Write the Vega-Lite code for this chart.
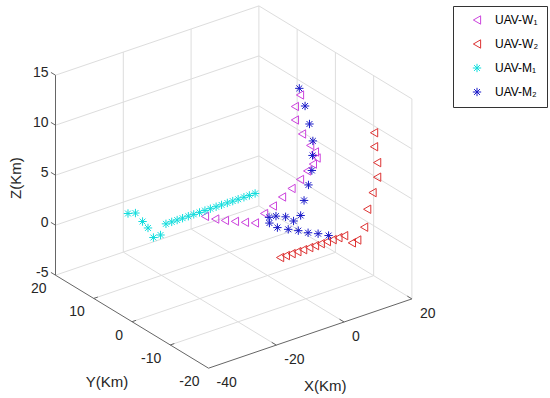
{
  "$schema": "https://vega.github.io/schema/vega-lite/v6.json",
  "width": 550,
  "height": 398,
  "padding": 0,
  "autosize": {"type": "none"},
  "background": "white",
  "config": {"view": {"stroke": null}},
  "datasets": {
    "grid": [
      {"X1": -20, "Y1": 20, "Z1": -5, "X2": -20, "Y2": 20, "Z2": 15},
      {"X1": 0, "Y1": 20, "Z1": -5, "X2": 0, "Y2": 20, "Z2": 15},
      {"X1": 20, "Y1": 20, "Z1": -5, "X2": 20, "Y2": 20, "Z2": 15},
      {"X1": -40, "Y1": 20, "Z1": -5, "X2": 20, "Y2": 20, "Z2": -5},
      {"X1": -40, "Y1": 20, "Z1": 0, "X2": 20, "Y2": 20, "Z2": 0},
      {"X1": -40, "Y1": 20, "Z1": 5, "X2": 20, "Y2": 20, "Z2": 5},
      {"X1": -40, "Y1": 20, "Z1": 10, "X2": 20, "Y2": 20, "Z2": 10},
      {"X1": -40, "Y1": 20, "Z1": 15, "X2": 20, "Y2": 20, "Z2": 15},
      {"X1": 20, "Y1": 10, "Z1": -5, "X2": 20, "Y2": 10, "Z2": 15},
      {"X1": 20, "Y1": 0, "Z1": -5, "X2": 20, "Y2": 0, "Z2": 15},
      {"X1": 20, "Y1": -10, "Z1": -5, "X2": 20, "Y2": -10, "Z2": 15},
      {"X1": 20, "Y1": -20, "Z1": -5, "X2": 20, "Y2": -20, "Z2": 15},
      {"X1": 20, "Y1": 20, "Z1": -5, "X2": 20, "Y2": -20, "Z2": -5},
      {"X1": 20, "Y1": 20, "Z1": 0, "X2": 20, "Y2": -20, "Z2": 0},
      {"X1": 20, "Y1": 20, "Z1": 5, "X2": 20, "Y2": -20, "Z2": 5},
      {"X1": 20, "Y1": 20, "Z1": 10, "X2": 20, "Y2": -20, "Z2": 10},
      {"X1": 20, "Y1": 20, "Z1": 15, "X2": 20, "Y2": -20, "Z2": 15},
      {"X1": -20, "Y1": 20, "Z1": -5, "X2": -20, "Y2": -20, "Z2": -5},
      {"X1": 0, "Y1": 20, "Z1": -5, "X2": 0, "Y2": -20, "Z2": -5},
      {"X1": -40, "Y1": 10, "Z1": -5, "X2": 20, "Y2": 10, "Z2": -5},
      {"X1": -40, "Y1": 0, "Z1": -5, "X2": 20, "Y2": 0, "Z2": -5},
      {"X1": -40, "Y1": -10, "Z1": -5, "X2": 20, "Y2": -10, "Z2": -5}
    ],
    "axes": [
      {"X1": -40, "Y1": 20, "Z1": -5, "X2": -40, "Y2": 20, "Z2": 15},
      {"X1": -40, "Y1": 20, "Z1": -5, "X2": -40, "Y2": -20, "Z2": -5},
      {"X1": -40, "Y1": -20, "Z1": -5, "X2": 20, "Y2": -20, "Z2": -5},
      {"X1": -40, "Y1": 20, "Z1": -5, "X2": -40, "Y2": 21.2, "Z2": -5},
      {"X1": -40, "Y1": 20, "Z1": 0, "X2": -40, "Y2": 21.2, "Z2": 0},
      {"X1": -40, "Y1": 20, "Z1": 5, "X2": -40, "Y2": 21.2, "Z2": 5},
      {"X1": -40, "Y1": 20, "Z1": 10, "X2": -40, "Y2": 21.2, "Z2": 10},
      {"X1": -40, "Y1": 20, "Z1": 15, "X2": -40, "Y2": 21.2, "Z2": 15},
      {"X1": -40, "Y1": 10, "Z1": -5, "X2": -38.8, "Y2": 10, "Z2": -5},
      {"X1": -40, "Y1": 0, "Z1": -5, "X2": -38.8, "Y2": 0, "Z2": -5},
      {"X1": -40, "Y1": -10, "Z1": -5, "X2": -38.8, "Y2": -10, "Z2": -5},
      {"X1": -20, "Y1": -20, "Z1": -5, "X2": -20, "Y2": -18.8, "Z2": -5},
      {"X1": 0, "Y1": -20, "Z1": -5, "X2": 0, "Y2": -18.8, "Z2": -5},
      {"X1": 20, "Y1": -20, "Z1": -5, "X2": 20, "Y2": -18.8, "Z2": -5}
    ],
    "ticks": [
      {"ax": "z", "X": -40, "Y": 20, "Z": -5, "t": "-5"},
      {"ax": "z", "X": -40, "Y": 20, "Z": 0, "t": "0"},
      {"ax": "z", "X": -40, "Y": 20, "Z": 5, "t": "5"},
      {"ax": "z", "X": -40, "Y": 20, "Z": 10, "t": "10"},
      {"ax": "z", "X": -40, "Y": 20, "Z": 15, "t": "15"},
      {"ax": "y", "X": -40, "Y": 20, "Z": -5, "t": "20"},
      {"ax": "y", "X": -40, "Y": 10, "Z": -5, "t": "10"},
      {"ax": "y", "X": -40, "Y": 0, "Z": -5, "t": "0"},
      {"ax": "y", "X": -40, "Y": -10, "Z": -5, "t": "-10"},
      {"ax": "y", "X": -40, "Y": -20, "Z": -5, "t": "-20"},
      {"ax": "x", "X": -40, "Y": -20, "Z": -5, "t": "-40"},
      {"ax": "x", "X": -20, "Y": -20, "Z": -5, "t": "-20"},
      {"ax": "x", "X": 0, "Y": -20, "Z": -5, "t": "0"},
      {"ax": "x", "X": 20, "Y": -20, "Z": -5, "t": "20"},
      {"ax": "tx", "X": -10, "Y": -20, "Z": -5, "t": "X(Km)"},
      {"ax": "ty", "X": -40, "Y": 0, "Z": -5, "t": "Y(Km)"},
      {"ax": "tz", "X": -40, "Y": 20, "Z": 5, "t": "Z(Km)"}
    ],
    "pts": [
      {"s": "UAV-W₁", "X": -9.0, "Y": 8.4, "Z": 0},
      {"s": "UAV-W₁", "X": -7.9, "Y": 6.7, "Z": 0},
      {"s": "UAV-W₁", "X": -6.5, "Y": 5.4, "Z": 0},
      {"s": "UAV-W₁", "X": -4.9, "Y": 4.2, "Z": 0},
      {"s": "UAV-W₁", "X": -3.3, "Y": 3.0, "Z": 0},
      {"s": "UAV-W₁", "X": -1.6, "Y": 1.9, "Z": 0},
      {"s": "UAV-W₁", "X": 1.1, "Y": 1.9, "Z": 0.63},
      {"s": "UAV-W₁", "X": 3.7, "Y": 1.9, "Z": 1.08},
      {"s": "UAV-W₁", "X": 6.4, "Y": 1.9, "Z": 1.67},
      {"s": "UAV-W₁", "X": 9.2, "Y": 1.9, "Z": 2.2},
      {"s": "UAV-W₁", "X": 11.7, "Y": 1.9, "Z": 2.81},
      {"s": "UAV-W₁", "X": 13.8, "Y": 1.9, "Z": 3.42},
      {"s": "UAV-W₁", "X": 15.5, "Y": 1.9, "Z": 3.91},
      {"s": "UAV-W₁", "X": 16.6, "Y": 1.9, "Z": 4.39},
      {"s": "UAV-W₁", "X": 16.1, "Y": 1.9, "Z": 5.05},
      {"s": "UAV-W₁", "X": 14.7, "Y": 1.9, "Z": 5.87},
      {"s": "UAV-W₁", "X": 12.3, "Y": 1.9, "Z": 7.29},
      {"s": "UAV-W₁", "X": 10.2, "Y": 1.9, "Z": 8.93},
      {"s": "UAV-W₁", "X": 10.2, "Y": 1.9, "Z": 10.28},
      {"s": "UAV-W₁", "X": 11.7, "Y": 1.9, "Z": 11.26},
      {"s": "UAV-W₂", "X": -7.6, "Y": -10, "Z": 0},
      {"s": "UAV-W₂", "X": -5.9, "Y": -10, "Z": 0},
      {"s": "UAV-W₂", "X": -4.2, "Y": -10, "Z": 0},
      {"s": "UAV-W₂", "X": -2.5, "Y": -10, "Z": 0},
      {"s": "UAV-W₂", "X": -0.8, "Y": -10, "Z": 0},
      {"s": "UAV-W₂", "X": 1.0, "Y": -10, "Z": 0},
      {"s": "UAV-W₂", "X": 2.7, "Y": -10, "Z": 0},
      {"s": "UAV-W₂", "X": 4.4, "Y": -10, "Z": 0},
      {"s": "UAV-W₂", "X": 6.2, "Y": -10, "Z": 0},
      {"s": "UAV-W₂", "X": 7.9, "Y": -10, "Z": 0},
      {"s": "UAV-W₂", "X": 9.6, "Y": -10, "Z": 0},
      {"s": "UAV-W₂", "X": 11.3, "Y": -10, "Z": 0},
      {"s": "UAV-W₂", "X": 12, "Y": -11.4, "Z": -0.47},
      {"s": "UAV-W₂", "X": 12, "Y": -12.8, "Z": 0.14},
      {"s": "UAV-W₂", "X": 12, "Y": -14.6, "Z": 1.84},
      {"s": "UAV-W₂", "X": 12, "Y": -15.4, "Z": 3.82},
      {"s": "UAV-W₂", "X": 12, "Y": -16.8, "Z": 5.81},
      {"s": "UAV-W₂", "X": 12, "Y": -18.0, "Z": 7.63},
      {"s": "UAV-W₂", "X": 12, "Y": -18.0, "Z": 9.09},
      {"s": "UAV-W₂", "X": 12, "Y": -17.2, "Z": 10.49},
      {"s": "UAV-W₂", "X": 12, "Y": -17.2, "Z": 11.89},
      {"s": "UAV-M₁", "X": -29.9, "Y": 10, "Z": 2.33},
      {"s": "UAV-M₁", "X": -27.7, "Y": 10, "Z": 2.12},
      {"s": "UAV-M₁", "X": -25.6, "Y": 10, "Z": 1.03},
      {"s": "UAV-M₁", "X": -24.0, "Y": 10, "Z": 0.2},
      {"s": "UAV-M₁", "X": -22.4, "Y": 10, "Z": -0.94},
      {"s": "UAV-M₁", "X": -20.3, "Y": 10, "Z": -0.93},
      {"s": "UAV-M₁", "X": -18.7, "Y": 10, "Z": 0},
      {"s": "UAV-M₁", "X": -17.0, "Y": 10, "Z": 0},
      {"s": "UAV-M₁", "X": -15.4, "Y": 10, "Z": 0},
      {"s": "UAV-M₁", "X": -13.8, "Y": 10, "Z": 0},
      {"s": "UAV-M₁", "X": -12.1, "Y": 10, "Z": 0},
      {"s": "UAV-M₁", "X": -10.5, "Y": 10, "Z": 0},
      {"s": "UAV-M₁", "X": -8.8, "Y": 10, "Z": 0},
      {"s": "UAV-M₁", "X": -7.2, "Y": 10, "Z": 0},
      {"s": "UAV-M₁", "X": -5.6, "Y": 10, "Z": 0},
      {"s": "UAV-M₁", "X": -3.9, "Y": 10, "Z": 0},
      {"s": "UAV-M₁", "X": -2.3, "Y": 10, "Z": 0},
      {"s": "UAV-M₁", "X": -0.6, "Y": 10, "Z": 0},
      {"s": "UAV-M₁", "X": 1.0, "Y": 10, "Z": 0},
      {"s": "UAV-M₁", "X": 2.6, "Y": 10, "Z": 0},
      {"s": "UAV-M₁", "X": 4.3, "Y": 10, "Z": 0},
      {"s": "UAV-M₁", "X": 5.9, "Y": 10, "Z": 0},
      {"s": "UAV-M₁", "X": 7.6, "Y": 10, "Z": 0},
      {"s": "UAV-M₂", "X": 8.0, "Y": -1.2, "Z": 13.07},
      {"s": "UAV-M₂", "X": 9.7, "Y": -1.2, "Z": 11.11},
      {"s": "UAV-M₂", "X": 11.0, "Y": -1.2, "Z": 9.16},
      {"s": "UAV-M₂", "X": 12.0, "Y": -1.2, "Z": 7.35},
      {"s": "UAV-M₂", "X": 11.9, "Y": -1.2, "Z": 5.91},
      {"s": "UAV-M₂", "X": 11.7, "Y": -1.2, "Z": 4.43},
      {"s": "UAV-M₂", "X": 10.7, "Y": -1.2, "Z": 3.1},
      {"s": "UAV-M₂", "X": 9.4, "Y": -1.2, "Z": 1.7},
      {"s": "UAV-M₂", "X": 8.4, "Y": -1.2, "Z": 0.31},
      {"s": "UAV-M₂", "X": 6.3, "Y": -1.2, "Z": 0},
      {"s": "UAV-M₂", "X": 6.1, "Y": 0.7, "Z": 0},
      {"s": "UAV-M₂", "X": 4.5, "Y": 1.8, "Z": 0},
      {"s": "UAV-M₂", "X": 2.8, "Y": 2.1, "Z": 0},
      {"s": "UAV-M₂", "X": 1.1, "Y": 0.5, "Z": 0},
      {"s": "UAV-M₂", "X": 1.2, "Y": -1.5, "Z": 0},
      {"s": "UAV-M₂", "X": 2.7, "Y": -3.0, "Z": 0},
      {"s": "UAV-M₂", "X": 4.2, "Y": -4.3, "Z": 0},
      {"s": "UAV-M₂", "X": 5.4, "Y": -5.8, "Z": 0},
      {"s": "UAV-M₂", "X": 7.0, "Y": -7.0, "Z": 0},
      {"s": "UAV-M₂", "X": 8.4, "Y": -8.5, "Z": 0}
    ]
  },
  "encoding": {
    "x": {"field": "px", "type": "quantitative", "scale": {"domain": [0, 550], "nice": false, "zero": false}, "axis": null},
    "y": {"field": "py", "type": "quantitative", "scale": {"domain": [0, 398], "nice": false, "zero": false, "reverse": true}, "axis": null}
  },
  "layer": [
    {
      "data": {"name": "grid"},
      "transform": [
        {"calculate": "208.5+3.39*(datum.X1+40)-3.825*(datum.Y1+20)", "as": "px"},
        {"calculate": "368.2-1.155*(datum.X1+40)-2.325*(datum.Y1+20)-10*(datum.Z1+5)", "as": "py"},
        {"calculate": "208.5+3.39*(datum.X2+40)-3.825*(datum.Y2+20)", "as": "px2"},
        {"calculate": "368.2-1.155*(datum.X2+40)-2.325*(datum.Y2+20)-10*(datum.Z2+5)", "as": "py2"}
      ],
      "mark": {"type": "rule", "color": "#dddddd", "strokeWidth": 1},
      "encoding": {"x2": {"field": "px2"}, "y2": {"field": "py2"}}
    },
    {
      "data": {"name": "axes"},
      "transform": [
        {"calculate": "208.5+3.39*(datum.X1+40)-3.825*(datum.Y1+20)", "as": "px"},
        {"calculate": "368.2-1.155*(datum.X1+40)-2.325*(datum.Y1+20)-10*(datum.Z1+5)", "as": "py"},
        {"calculate": "208.5+3.39*(datum.X2+40)-3.825*(datum.Y2+20)", "as": "px2"},
        {"calculate": "368.2-1.155*(datum.X2+40)-2.325*(datum.Y2+20)-10*(datum.Z2+5)", "as": "py2"}
      ],
      "mark": {"type": "rule", "color": "#666666", "strokeWidth": 1},
      "encoding": {"x2": {"field": "px2"}, "y2": {"field": "py2"}}
    },
    {
      "data": {"name": "ticks"},
      "transform": [
        {"filter": "datum.ax == 'z'"},
        {"calculate": "208.5+3.39*(datum.X+40)-3.825*(datum.Y+20)", "as": "px"},
        {"calculate": "368.2-1.155*(datum.X+40)-2.325*(datum.Y+20)-10*(datum.Z+5)", "as": "py"}
      ],
      "mark": {"type": "text", "align": "right", "baseline": "middle", "dx": -7, "dy": -2, "font": "Liberation Sans", "fontSize": 14, "color": "#262626"},
      "encoding": {"text": {"field": "t"}}
    },
    {
      "data": {"name": "ticks"},
      "transform": [
        {"filter": "datum.ax == 'y'"},
        {"calculate": "208.5+3.39*(datum.X+40)-3.825*(datum.Y+20)", "as": "px"},
        {"calculate": "368.2-1.155*(datum.X+40)-2.325*(datum.Y+20)-10*(datum.Z+5)", "as": "py"}
      ],
      "mark": {"type": "text", "align": "right", "baseline": "middle", "dx": -9, "dy": 14, "font": "Liberation Sans", "fontSize": 14, "color": "#262626"},
      "encoding": {"text": {"field": "t"}}
    },
    {
      "data": {"name": "ticks"},
      "transform": [
        {"filter": "datum.ax == 'x'"},
        {"calculate": "208.5+3.39*(datum.X+40)-3.825*(datum.Y+20)", "as": "px"},
        {"calculate": "368.2-1.155*(datum.X+40)-2.325*(datum.Y+20)-10*(datum.Z+5)", "as": "py"}
      ],
      "mark": {"type": "text", "align": "left", "baseline": "middle", "dx": 8, "dy": 15, "font": "Liberation Sans", "fontSize": 14, "color": "#262626"},
      "encoding": {"text": {"field": "t"}}
    },
    {
      "data": {"name": "ticks"},
      "transform": [
        {"filter": "datum.ax == 'tx'"},
        {"calculate": "208.5+3.39*(datum.X+40)-3.825*(datum.Y+20)", "as": "px"},
        {"calculate": "368.2-1.155*(datum.X+40)-2.325*(datum.Y+20)-10*(datum.Z+5)", "as": "py"}
      ],
      "mark": {"type": "text", "align": "center", "baseline": "middle", "dx": 15, "dy": 52, "font": "Liberation Sans", "fontSize": 15, "color": "#262626"},
      "encoding": {"text": {"field": "t"}}
    },
    {
      "data": {"name": "ticks"},
      "transform": [
        {"filter": "datum.ax == 'ty'"},
        {"calculate": "208.5+3.39*(datum.X+40)-3.825*(datum.Y+20)", "as": "px"},
        {"calculate": "368.2-1.155*(datum.X+40)-2.325*(datum.Y+20)-10*(datum.Z+5)", "as": "py"}
      ],
      "mark": {"type": "text", "align": "center", "baseline": "middle", "dx": -25, "dy": 60, "font": "Liberation Sans", "fontSize": 15, "color": "#262626"},
      "encoding": {"text": {"field": "t"}}
    },
    {
      "data": {"name": "ticks"},
      "transform": [
        {"filter": "datum.ax == 'tz'"},
        {"calculate": "208.5+3.39*(datum.X+40)-3.825*(datum.Y+20)", "as": "px"},
        {"calculate": "368.2-1.155*(datum.X+40)-2.325*(datum.Y+20)-10*(datum.Z+5)", "as": "py"}
      ],
      "mark": {"type": "text", "align": "center", "baseline": "middle", "angle": 270, "dx": -3, "dy": -40, "font": "Liberation Sans", "fontSize": 15, "color": "#262626"},
      "encoding": {"text": {"field": "t"}}
    },
    {
      "data": {"name": "pts"},
      "transform": [
        {"calculate": "208.5+3.39*(datum.X+40)-3.825*(datum.Y+20)", "as": "px"},
        {"calculate": "368.2-1.155*(datum.X+40)-2.325*(datum.Y+20)-10*(datum.Z+5)", "as": "py"}
      ],
      "mark": {"type": "point", "filled": false, "size": 70, "strokeWidth": 1, "opacity": 1},
      "encoding": {
        "color": {
          "field": "s", "type": "nominal",
          "scale": {"domain": ["UAV-W₁", "UAV-W₂", "UAV-M₁", "UAV-M₂"], "range": ["#cc44dd", "#dd3333", "#11dddd", "#1a1ac8"]},
          "legend": {"title": null, "orient": "none", "legendX": 453, "legendY": 6, "strokeColor": "#333333", "fillColor": "white", "padding": 8, "symbolOffset": 10, "labelOffset": 12, "rowPadding": 10, "labelFontSize": 12, "labelFont": "Liberation Sans", "labelColor": "#000000", "symbolSize": 70, "symbolStrokeWidth": 1}
        },
        "shape": {
          "field": "s", "type": "nominal",
          "scale": {"domain": ["UAV-W₁", "UAV-W₂", "UAV-M₁", "UAV-M₂"], "range": ["triangle-left", "triangle-left", "M0,-1L0,1M-1,0L1,0M-0.7,-0.7L0.7,0.7M-0.7,0.7L0.7,-0.7", "M0,-1L0,1M-1,0L1,0M-0.7,-0.7L0.7,0.7M-0.7,0.7L0.7,-0.7"]},
          "legend": {"title": null, "orient": "none", "legendX": 453, "legendY": 6, "strokeColor": "#333333", "fillColor": "white", "padding": 8, "symbolOffset": 10, "labelOffset": 12, "rowPadding": 10, "labelFontSize": 12, "labelFont": "Liberation Sans", "labelColor": "#000000", "symbolSize": 70, "symbolStrokeWidth": 1}
        }
      }
    }
  ]
}
